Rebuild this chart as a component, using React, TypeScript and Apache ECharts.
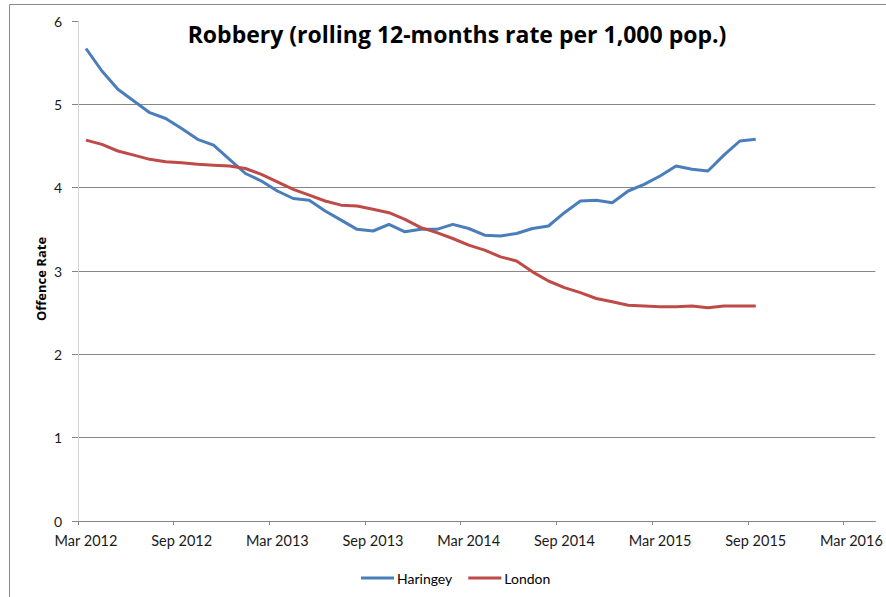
import React, { useEffect, useRef } from "react";
import * as echarts from "echarts";

// x axis: months counted from the start of Mar 2012; each monthly point sits mid-month
const MONTH_NAMES = ["Jan", "Feb", "Mar", "Apr", "May", "Jun", "Jul", "Aug", "Sep", "Oct", "Nov", "Dec"];
const START_MONTH = 2; // March
const START_YEAR = 2012;
const tickMonths = [0, 6, 12, 18, 24, 30, 36, 42, 48];

const haringey = [
  5.67, 5.4, 5.18, 5.04, 4.9, 4.83, 4.71, 4.58, 4.51, 4.34, 4.17, 4.08, 3.96, 3.87, 3.85,
  3.72, 3.61, 3.5, 3.48, 3.56, 3.47, 3.5, 3.5, 3.56, 3.51, 3.43, 3.42, 3.45, 3.51, 3.54,
  3.7, 3.84, 3.85, 3.82, 3.96, 4.04, 4.14, 4.26, 4.22, 4.2, 4.39, 4.56, 4.58,
];
const london = [
  4.57, 4.52, 4.44, 4.39, 4.34, 4.31, 4.3, 4.28, 4.27, 4.26, 4.23, 4.16, 4.07, 3.98, 3.91,
  3.84, 3.79, 3.78, 3.74, 3.7, 3.62, 3.52, 3.46, 3.39, 3.31, 3.25, 3.17, 3.12, 2.99, 2.88,
  2.8, 2.74, 2.67, 2.63, 2.59, 2.58, 2.57, 2.57, 2.58, 2.56, 2.58, 2.58, 2.58,
];

const TITLE = "Robbery (rolling 12-months rate per 1,000 pop.)";
const Y_NAME = "Offence Rate";
const FONT = "Lato";

function monthLabel(v: number): string {
  const m = Math.floor(v + 1e-6);
  const total = START_MONTH + m;
  return MONTH_NAMES[total % 12] + " " + (START_YEAR + Math.floor(total / 12));
}

export default function App() {
  const ref = useRef<HTMLDivElement>(null);
  useEffect(() => {
    if (!ref.current) return;
    const chart = echarts.init(ref.current, undefined, { renderer: "svg" });
    const toPts = (arr: number[]) => arr.map((v, i) => [i + 0.5, v]);
    chart.setOption({
      animation: false,
      backgroundColor: "#ffffff",
      title: {
        text: TITLE,
        left: 452,
        top: 17,
        textAlign: "center",
        textStyle: { fontFamily: "Open Sans", fontSize: 23, fontWeight: "bold", color: "#000" },
      },
      legend: {
        data: ["Haringey", "London"],
        left: 356,
        top: 566,
        icon: "rect",
        itemWidth: 33,
        itemHeight: 3,
        itemGap: 16,
        textStyle: { fontFamily: FONT, fontSize: 14, color: "#000", padding: [0, 0, 0, -2] },
      },
      grid: { left: 78, right: 2, top: 21, bottom: 76, containLabel: false },
      xAxis: {
        type: "value",
        min: 0,
        max: 50,
        axisLine: { show: true, lineStyle: { color: "#868686", width: 1 } },
        axisTick: {
          show: true,
          length: 4,
          customValues: tickMonths,
          lineStyle: { color: "#868686" },
        },
        axisLabel: {
          customValues: tickMonths.map((m) => m + 0.5),
          formatter: (v: number) => monthLabel(v),
          margin: 12,
          fontFamily: FONT,
          fontSize: 14.5,
          color: "#1a1a1a",
        },
        splitLine: { show: false },
      },
      yAxis: {
        type: "value",
        min: 0,
        max: 6,
        interval: 1,
        axisLine: { show: true, lineStyle: { color: "#d4d4d4", width: 1 } },
        axisTick: { show: true, length: 6, lineStyle: { color: "#868686" } },
        axisLabel: { margin: 16, fontFamily: FONT, fontSize: 14, color: "#1a1a1a" },
        splitLine: { show: true, showMaxLine: false, lineStyle: { color: "#868686", width: 1 } },
      },
      graphic: [
        {
          type: "rect",
          shape: { x: 9.5, y: 4.5, width: 1000, height: 1000 },
          style: { fill: "none", stroke: "#8a8a8a", lineWidth: 1 },
          silent: true,
        },
        {
          type: "text",
          x: 41,
          y: 279,
          rotation: Math.PI / 2,
          style: {
            text: Y_NAME,
            font: "bold 13px 'Open Sans'",
            fill: "#000",
            align: "center",
            verticalAlign: "middle",
          },
        },
      ],
      series: [
        {
          name: "Haringey",
          type: "line",
          data: toPts(haringey),
          symbol: "none",
          lineStyle: { color: "#4A7EBB", width: 3 },
          itemStyle: { color: "#4A7EBB" },
        },
        {
          name: "London",
          type: "line",
          data: toPts(london),
          symbol: "none",
          lineStyle: { color: "#BE4B48", width: 3 },
          itemStyle: { color: "#BE4B48" },
        },
      ],
    });
    return () => chart.dispose();
  }, []);
  return (
    <div
      ref={ref}
      style={{ position: "fixed", left: 0, top: 0, width: 886, height: 597, background: "#fff" }}
    />
  );
}
